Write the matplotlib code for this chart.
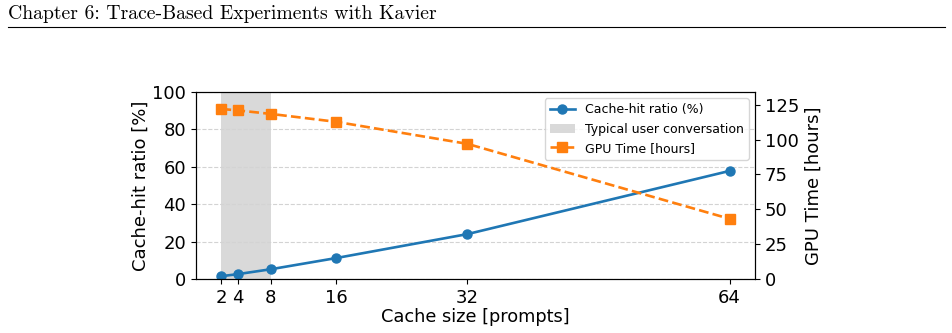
import numpy as np
import matplotlib
matplotlib.use("Agg")
import matplotlib.pyplot as plt
from matplotlib.ticker import MultipleLocator

#%% Data

cache_size = [2, 4, 8, 16, 32, 64]  # [prompts]
hit_ratio = [1.5, 2.6, 5.2, 11.2, 24.0, 57.8]  # [%]
gpu_time = [122.0, 121.0, 118.5, 112.8, 97.0, 43.2]  # [hours]
conv_range = [2, 8]  # typisk brukersamtale

header = "Chapter 6: Trace-Based Experiments with Kavier"

#%% Plot

fig = plt.figure(figsize=(9.53, 3.33), dpi=100)

# sidehode som i avhandlingen
fig.text(8/953, 1 - 14/333, header, fontfamily="cmr10", fontsize=14.2,
         va="center", ha="left")
fig.add_artist(plt.Line2D([8/953, 945/953], [1 - 27/333, 1 - 27/333],
                          color="black", lw=0.8))

ax1 = fig.add_axes([196/953, 1 - 279/333, (755 - 196)/953, (279 - 92)/333])
ax2 = ax1.twinx()

l1, = ax1.plot(cache_size, hit_ratio, marker="o", color="tab:blue", lw=1.9,
               ms=6.5, label="Cache-hit ratio (%)")
span = ax1.axvspan(conv_range[0], conv_range[1], color="lightgray", alpha=0.85,
                   lw=0, label="Typical user conversation", zorder=0)
l2, = ax2.plot(cache_size, gpu_time, marker="s", ls="--", color="tab:orange",
               lw=1.9, ms=6.5, label="GPU Time [hours]")

ax1.set_ylim(0, 100)
ax2.set_ylim(0, max(gpu_time) * 1.1)
ax2.yaxis.set_major_locator(MultipleLocator(25))
ax1.set_xticks(cache_size)
ax1.grid(axis="y", ls="--", color="lightgray", lw=0.8)
ax1.set_axisbelow(True)

ax1.tick_params(labelsize=13)
ax2.tick_params(labelsize=13)
ax1.set_xlabel("Cache size [prompts]", fontsize=12.8, labelpad=1)
ax1.set_ylabel("Cache-hit ratio [%]", fontsize=13, labelpad=2)
ax2.set_ylabel("GPU Time [hours]", fontsize=13)

ax2.legend([l1, span, l2], [l1.get_label(), span.get_label(), l2.get_label()],
           loc="upper right", fontsize=9)

fig.savefig("out.png", dpi=100)
